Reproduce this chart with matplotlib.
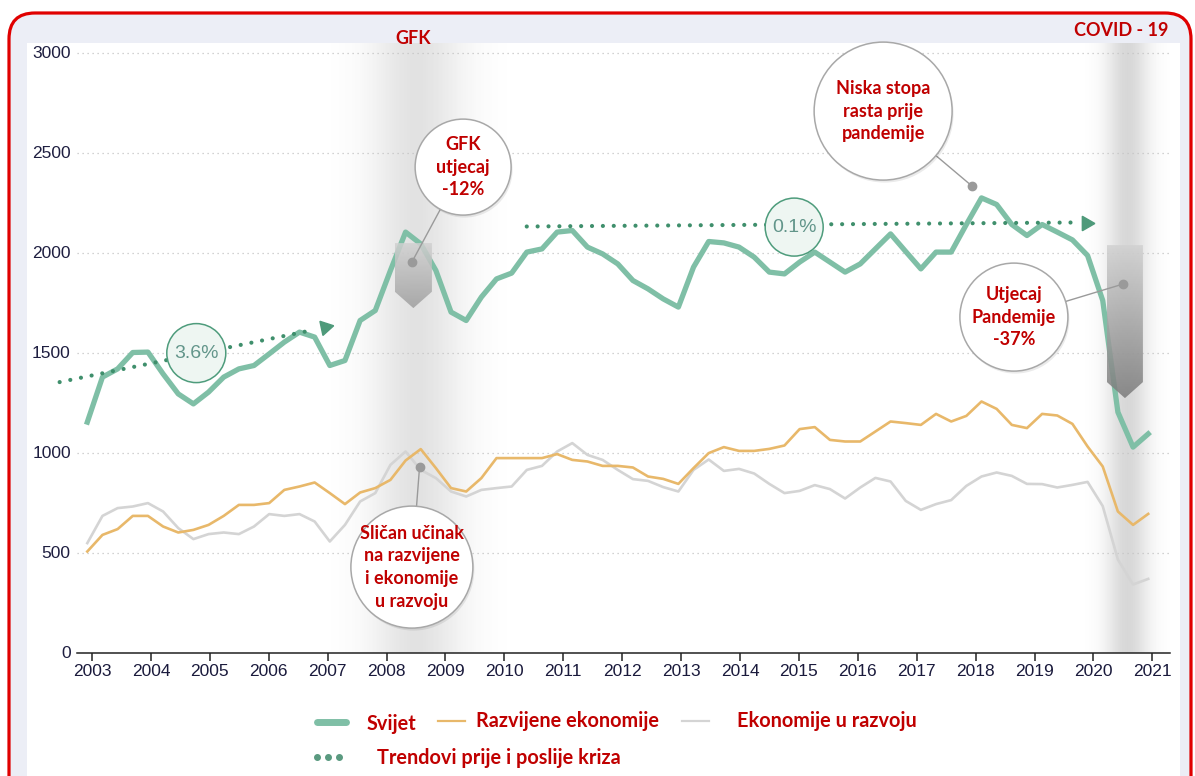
import matplotlib
matplotlib.use("Agg")
import matplotlib.pyplot as plt
import matplotlib.transforms as mtransforms
from matplotlib.patches import Circle, Polygon, FancyBboxPatch, Rectangle
from matplotlib.lines import Line2D
import numpy as np

W, H = 1195, 776

# quarterly index values (2003 .. early 2021)
svijet = [1152, 1377, 1418, 1500, 1502, 1393, 1293, 1243, 1302, 1377,
          1418, 1435, 1493, 1552, 1602, 1577, 1435, 1460, 1660, 1710,
          1910, 2102, 2043, 1910, 1702, 1660, 1777, 1868, 1897, 2002,
          2018, 2102, 2110, 2027, 1993, 1943, 1860, 1818, 1768, 1727,
          1927, 2055, 2048, 2027, 1977, 1902, 1893, 1952, 2002, 1952,
          1902, 1943, 2018, 2093, 2005, 1918, 2002, 2002, 2140, 2273,
          2240, 2140, 2085, 2140, 2102, 2063, 1985, 1760, 1202, 1027,
          1093]
razvijene = [505, 588, 617, 683, 683, 630, 600, 613, 638, 683,
             738, 738, 747, 813, 830, 850, 797, 742, 800, 822,
             863, 960, 1017, 922, 822, 805, 872, 972, 972, 972,
             972, 992, 963, 955, 933, 933, 925, 880, 868, 843,
             922, 997, 1027, 1008, 1008, 1018, 1035, 1117, 1127, 1063,
             1055, 1055, 1105, 1155, 1147, 1138, 1193, 1155, 1183, 1255,
             1218, 1138, 1122, 1193, 1185, 1143, 1030, 930, 705, 638,
             693]
u_razvoju = [547, 683, 722, 730, 747, 705, 622, 567, 592, 600,
             592, 630, 692, 683, 692, 655, 555, 638, 755, 797,
             938, 1005, 913, 872, 805, 780, 813, 822, 830, 913,
             933, 1005, 1047, 988, 963, 913, 867, 858, 827, 805,
             913, 965, 908, 918, 895, 843, 797, 808, 837, 817,
             770, 825, 873, 855, 758, 713, 742, 762, 833, 880,
             900, 883, 843, 842, 825, 838, 853, 732, 465, 340,
             368]
first_q, last_q = 2002.92, 2020.93
years = list(range(2003, 2022))
y_ticks = [0, 500, 1000, 1500, 2000, 2500, 3000]

# trend lines before / after crisis
trend_pre_x, trend_pre_y = [2002.45, 2006.68], [1352, 1608]
trend_post_x, trend_post_y = [2010.38, 2019.66], [2130, 2150]

C_WORLD = "#7fbfa6"
C_DEV = "#e8b86a"
C_EM = "#d4d4d4"
C_TREND = "#3f8f6c"
RED = "#c00000"
BOLD = dict(family=["Lato", "DejaVu Sans"], fontweight="bold", color=RED)
NARROW = ["Liberation Sans Narrow", "Liberation Sans", "DejaVu Sans"]

t = np.linspace(first_q, last_q, len(svijet))

fig = plt.figure(figsize=(W / 100, H / 100), dpi=100)
fig.patch.set_facecolor("white")
ident = mtransforms.IdentityTransform()

# red rounded frame + white panel
fig.add_artist(FancyBboxPatch((9, -40), 1182, H - 13 + 40,
                              boxstyle="round,pad=0,rounding_size=26",
                              ec="#e00000", fc="#eceef6", lw=2.3,
                              transform=ident, zorder=-10))
fig.add_artist(Rectangle((27, -40), 1153, H - 43 + 40, fc="white", ec="none",
                         transform=ident, zorder=-9))

ax = fig.add_axes([77 / W, 1 - 652.5 / H, (1170 - 77) / W, (652.5 - 42.5) / H])
ax.set_facecolor("none")
XL, YL = (2002.745, 2021.30), (0, 3050)


def band(x0, x1, c, wl, wr, strength):
    xs = np.linspace(x0, x1, 300)
    w = np.where(xs < c, wl, wr)
    img = np.zeros((1, 300, 4))
    img[..., :3] = 0.3
    img[0, :, 3] = strength * np.exp(-((xs - c) / w) ** 2)
    ax.imshow(img, extent=[x0, x1, 0, 3050], aspect="auto", zorder=0.5,
              interpolation="bilinear")


band(2006.6, 2010.4, 2008.5, 0.75, 0.8, 0.16)
band(2019.5, 2021.3, 2020.57, 0.36, 0.36, 0.22)

ax.plot(t, u_razvoju, color=C_EM, lw=1.9, zorder=2)
ax.plot(t, razvijene, color=C_DEV, lw=1.9, zorder=3)
ax.plot(t, svijet, color=C_WORLD, lw=3.8, zorder=4, solid_joinstyle="round")

# dotted trend arrows
for tx, ty in [(trend_pre_x, trend_pre_y), (trend_post_x, trend_post_y)]:
    ax.plot(tx, ty, color=C_TREND, lw=3.0, linestyle=(0, (0.01, 2.6)),
            dash_capstyle="round", zorder=5, clip_on=False)
ax.plot([2006.96], [1628], marker=(3, 0, -78), ms=12, color="#4e9a7a",
        zorder=5, clip_on=False)
ax.plot([2019.88], [2150], marker=(3, 0, -90), ms=12, color="#4e9a7a",
        zorder=5, clip_on=False)


def drop_arrow(x0, x1, ytop, ybot, ytip, c0, c1):
    poly = Polygon([(x0, ytop), (x1, ytop), (x1, ybot), ((x0 + x1) / 2, ytip),
                    (x0, ybot)], closed=True, fc="none", ec="none")
    ax.add_patch(poly)
    g = np.linspace(0, 1, 100)
    img = np.ones((100, 1, 4))
    for k in range(3):
        img[:, 0, k] = c0 + (c1 - c0) * g
    img[..., 3] = 0.85
    im = ax.imshow(img, extent=[x0, x1, ytip, ytop], aspect="auto",
                   origin="upper", zorder=6, interpolation="bilinear")
    im.set_clip_path(poly)


drop_arrow(2008.14, 2008.77, 2047, 1804, 1722, 0.82, 0.62)
drop_arrow(2020.23, 2020.84, 2037, 1352, 1272, 0.82, 0.48)


def bubble(x, y, r, text, dot=None, small=False):
    trans = fig.dpi_scale_trans + mtransforms.ScaledTranslation(x, y, ax.transData)
    if dot is not None:
        ax.plot([dot[0], x], [dot[1], y], color="#9a9a9a", lw=1.0, zorder=7)
        ax.plot([dot[0]], [dot[1]], "o", color="#9a9a9a", ms=6, zorder=7.5)
    if small:
        ax.add_patch(Circle((0, 0), r / 100, transform=trans, fc="#eef6f2",
                            ec="#4e9c7c", lw=1.1, zorder=8, clip_on=False))
        ax.text(x, y, text, ha="center", va="center", fontsize=14,
                family=NARROW, stretch="condensed", color="#62958a", zorder=9)
    else:
        ax.add_patch(Circle((0.015, -0.025), r / 100, transform=trans, fc="black",
                            ec="none", alpha=0.08, zorder=7.8, clip_on=False))
        ax.add_patch(Circle((0, 0), r / 100, transform=trans, fc="white",
                            ec="#a8a8a8", lw=1.1, zorder=8, clip_on=False))
        ax.text(x, y, text, ha="center", va="center", fontsize=13,
                linespacing=1.4, zorder=9, **BOLD)


bubble(2009.30, 2427, 48, "GFK\nutjecaj\n-12%", dot=(2008.43, 1952))
bubble(2016.43, 2707, 69, "Niska stopa\nrasta prije\npandemije", dot=(2017.94, 2332))
bubble(2018.65, 1677, 54, "Utjecaj\nPandemije\n-37%", dot=(2020.50, 1842))
bubble(2008.43, 427, 61, "Sličan učinak\nna razvijene\ni ekonomije\nu razvoju",
       dot=(2008.56, 927))
bubble(2004.77, 1497, 29.5, "3.6%", small=True)
bubble(2014.92, 2127, 29, "0.1%", small=True)

# axes styling
ax.set_xlim(*XL)
ax.set_ylim(*YL)
ax.set_xticks(years)
ax.set_xticklabels([str(y) for y in years])
ax.set_yticks(y_ticks)
ax.set_yticklabels([str(v) for v in y_ticks])
for s in ["left", "top", "right"]:
    ax.spines[s].set_visible(False)
ax.spines["bottom"].set_color("#222222")
ax.spines["bottom"].set_linewidth(1.1)
ax.spines["bottom"].set_zorder(10)
ax.tick_params(axis="x", length=6, width=1.1, color="#222222", pad=2,
               labelsize=12.5, labelcolor="#1a1a3c")
ax.tick_params(axis="y", length=0, pad=4.5, labelsize=12.5, labelcolor="#1e1e40")
for lab in ax.get_xticklabels():
    lab.set_fontfamily(NARROW)
    lab.set_fontstretch("condensed")
for lab in ax.get_yticklabels():
    lab.set_fontfamily(["Liberation Sans", "DejaVu Sans"])
ax.grid(axis="y", linestyle=(0, (1, 3)), color="#c4c4c4", lw=0.9, zorder=1)
ax.set_axisbelow(True)

# header labels
fig.text(413 / W, 1 - 38 / H, "GFK", ha="center", va="center", fontsize=13, **BOLD)
fig.text(1168 / W, 1 - 30 / H, "COVID - 19", ha="right", va="center", fontsize=13, **BOLD)


# legend
def fx(p):
    return p / W


def fy(p):
    return 1 - p / H


fig.add_artist(Line2D([fx(317), fx(346)], [fy(722), fy(722)], transform=fig.transFigure,
                      color=C_WORLD, lw=5, solid_capstyle="round"))
fig.add_artist(Line2D([fx(438), fx(465)], [fy(721), fy(721)], transform=fig.transFigure,
                      color=C_DEV, lw=1.6))
fig.add_artist(Line2D([fx(682), fx(709)], [fy(721), fy(721)], transform=fig.transFigure,
                      color=C_EM, lw=1.6))
fig.add_artist(Line2D([fx(317), fx(328), fx(339)], [fy(757)] * 3, transform=fig.transFigure,
                      color="#5a9a80", lw=0, marker="o", ms=4))
fig.text(fx(367), fy(724), "Svijet", ha="left", va="center", fontsize=14.3, **BOLD)
fig.text(fx(476), fy(721), "Razvijene ekonomije", ha="left", va="center", fontsize=14.3, **BOLD)
fig.text(fx(737), fy(721), "Ekonomije u razvoju", ha="left", va="center", fontsize=14.3, **BOLD)
fig.text(fx(377), fy(758), "Trendovi prije i poslije kriza", ha="left", va="center",
         fontsize=14.3, **BOLD)

fig.savefig("out.png", dpi=100)
